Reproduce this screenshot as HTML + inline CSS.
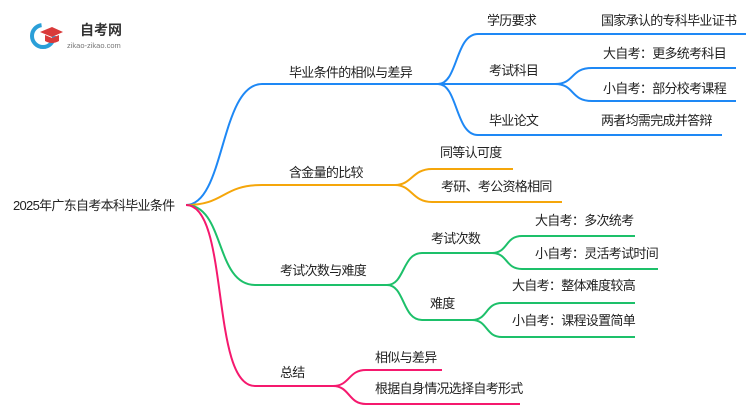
<!DOCTYPE html>
<html><head><meta charset="utf-8"><style>
html,body{margin:0;padding:0;background:#fff;}
svg{display:block;}
text{font-family:"Liberation Sans","Noto Sans CJK SC",sans-serif;font-size:13px;letter-spacing:-0.7px;fill:#222;}
</style></head><body>
<svg width="750" height="410" viewBox="0 0 750 410" xmlns="http://www.w3.org/2000/svg">
<g fill="none" stroke-width="2">
<g stroke="#1e88f5">
<path d="M186,205 C225,205 220,84 262,84 L438,84"/>
<path d="M438,84 C458,84 455,34 478,34 L746,34"/>
<path d="M438,84 L555,84"/>
<path d="M438,84 C458,84 455,135 478,135 L722,135"/>
<path d="M555,84 C575,84 570,68 592,68 L736,68"/>
<path d="M555,84 C575,84 570,101 592,101 L736,101"/>
</g>
<g stroke="#f5a60a">
<path d="M186,205 C225,205 222,185 262,185 L395,185"/>
<path d="M395,185 C412,185 412,169 432,169 L513,169"/>
<path d="M395,185 C412,185 412,202 432,202 L562,202"/>
</g>
<g stroke="#1dc06a">
<path d="M186,205 C225,205 215,285 255,285 L387,285"/>
<path d="M387,285 C405,285 402,253 422,253 L492,253"/>
<path d="M387,285 C405,285 402,320 422,320 L472,320"/>
<path d="M492,253 C508,253 505,236 522,236 L635,236"/>
<path d="M492,253 C508,253 505,269 522,269 L658,269"/>
<path d="M472,320 C488,320 485,303 502,303 L635,303"/>
<path d="M472,320 C488,320 485,337 502,337 L635,337"/>
</g>
<g stroke="#f5196e">
<path d="M186,205 C230,205 210,386 255,386 L333,386"/>
<path d="M333,386 C350,386 348,370 366,370 L442,370"/>
<path d="M333,386 C350,386 348,404 366,404 L520,404"/>
</g>
</g>
<circle cx="43" cy="36" r="11" fill="none" stroke="#2a9fd8" stroke-width="4" stroke-dasharray="50 20"/>
<path d="M40,32 L52,27 L63,32 L52,37 Z" fill="#d93a3a"/>
<path d="M45,35 L45,41 Q52,45 59,41 L59,35 L52,38 Z" fill="#d93a3a"/>
<text x="80" y="35" style="font-size:14px;font-weight:bold;fill:#333;letter-spacing:0">自考网</text>
<text x="67" y="48" style="font-size:7.5px;fill:#777;letter-spacing:0">zikao-zikao.com</text>
<text x="13" y="210">2025年广东自考本科毕业条件</text>
<text x="289" y="77">毕业条件的相似与差异</text>
<text x="487" y="25">学历要求</text>
<text x="601" y="25">国家承认的专科毕业证书</text>
<text x="489" y="75">考试科目</text>
<text x="603" y="58">大自考：更多统考科目</text>
<text x="603" y="93">小自考：部分校考课程</text>
<text x="489" y="125">毕业论文</text>
<text x="601" y="125">两者均需完成并答辩</text>
<text x="289" y="177">含金量的比较</text>
<text x="440" y="157">同等认可度</text>
<text x="441" y="191">考研、考公资格相同</text>
<text x="280" y="275">考试次数与难度</text>
<text x="431" y="243">考试次数</text>
<text x="535" y="225">大自考：多次统考</text>
<text x="535" y="258">小自考：灵活考试时间</text>
<text x="430" y="308">难度</text>
<text x="512" y="290">大自考：整体难度较高</text>
<text x="512" y="325">小自考：课程设置简单</text>
<text x="280" y="377">总结</text>
<text x="375" y="362">相似与差异</text>
<text x="375" y="393">根据自身情况选择自考形式</text>
</svg>
</body></html>
